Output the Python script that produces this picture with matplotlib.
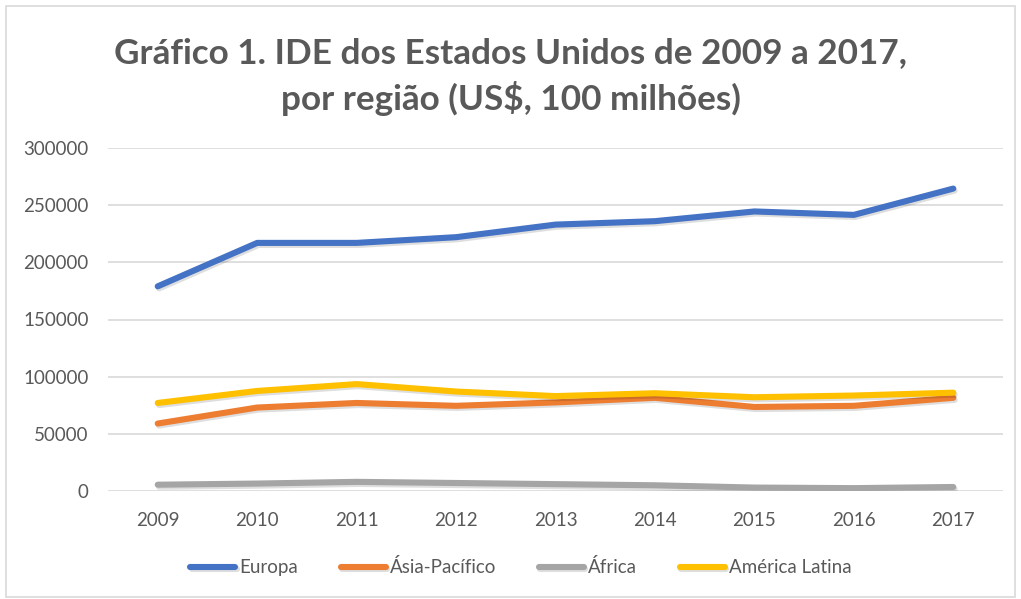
import matplotlib
matplotlib.use("Agg")
import matplotlib.pyplot as plt
import matplotlib.patheffects as pe
from matplotlib.patches import Rectangle

years = ["2009", "2010", "2011", "2012", "2013", "2014", "2015", "2016", "2017"]
europa = [179000, 217000, 217000, 222000, 233000, 236000, 244500, 241500, 264500]
asia_pacifico = [59000, 73000, 77000, 74500, 77500, 81500, 73500, 74500, 81500]
africa = [5500, 6500, 8000, 7000, 6000, 5000, 3000, 2500, 3500]
america_latina = [77000, 87500, 93500, 87000, 83000, 85500, 82000, 83500, 86000]

series = [
    ("Europa", europa, "#4472C4"),
    ("Ásia-Pacífico", asia_pacifico, "#ED7D31"),
    ("África", africa, "#A5A5A5"),
    ("América Latina", america_latina, "#FFC000"),
]

plt.rcParams['font.family'] = ['Lato', 'DejaVu Sans']
text_color = "#595959"

fig = plt.figure(figsize=(10.21, 5.99), dpi=100)
ax = fig.add_axes([108/1021, 108/599, (1003-108)/1021, (491-148)/599])

x = list(range(len(years)))
for name, vals, color in series:
    ax.plot(x, vals, color=color, lw=4.4, label=name, solid_capstyle='round',
            solid_joinstyle='round',
            path_effects=[pe.SimpleLineShadow(offset=(1.0, -1.5), shadow_color='black', alpha=0.13),
                          pe.Normal()])

ax.set_xlim(-0.5, len(years) - 0.5)
ax.set_ylim(0, 300000)
ax.set_yticks(range(0, 300001, 50000))
ax.set_yticklabels([str(v) for v in range(0, 300001, 50000)])
ax.set_xticks(x)
ax.set_xticklabels(years)
ax.grid(axis='y', color='#D9D9D9', lw=1.2)
ax.set_axisbelow(True)
for s in ax.spines.values():
    s.set_visible(False)
ax.tick_params(axis='both', length=0, labelsize=13.5, colors=text_color)
ax.tick_params(axis='y', pad=14)
ax.tick_params(axis='x', pad=15)

fig.text(0.5, 0.872, "Gráfico 1. IDE dos Estados Unidos de 2009 a 2017,\npor região (US$, 100 milhões)",
         ha='center', va='center', fontsize=25.3, fontweight='bold', color=text_color,
         linespacing=1.42)

leg = fig.legend(loc='center', bbox_to_anchor=(0.51, 0.053), ncol=4, frameon=False,
                 fontsize=13.5, handlelength=2.4, handletextpad=0.2, columnspacing=2.3)
for t in leg.get_texts():
    t.set_color(text_color)

fig.patches.append(Rectangle((6/1021, 2/599), 1 - 12/1021, 1 - 8/599, transform=fig.transFigure,
                             fill=False, edgecolor='#D9D9D9', lw=1.2))

fig.savefig("out.png", dpi=100)
